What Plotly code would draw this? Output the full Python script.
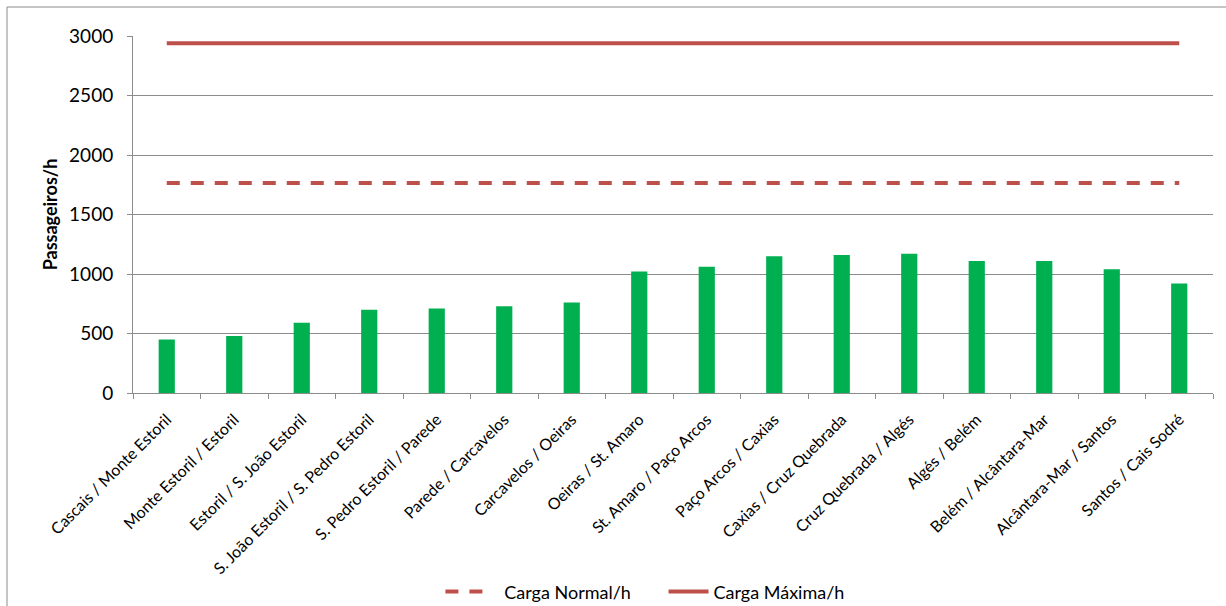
import plotly.graph_objects as go

categories = [
    "Cascais / Monte Estoril",
    "Monte Estoril / Estoril",
    "Estoril / S. João Estoril",
    "S. João Estoril / S. Pedro Estoril",
    "S. Pedro Estoril / Parede",
    "Parede / Carcavelos",
    "Carcavelos / Oeiras",
    "Oeiras / St. Amaro",
    "St. Amaro / Paço Arcos",
    "Paço Arcos / Caxias",
    "Caxias / Cruz Quebrada",
    "Cruz Quebrada / Algés",
    "Algés / Belém",
    "Belém / Alcântara-Mar",
    "Alcântara-Mar / Santos",
    "Santos / Cais Sodré",
]
passageiros = [450, 480, 590, 700, 710, 730, 760, 1020, 1060, 1150, 1160, 1170, 1110, 1110, 1040, 920]
carga_normal = [1765] * len(categories)
carga_maxima = [2940] * len(categories)
y_ticks = [0, 500, 1000, 1500, 2000, 2500, 3000]

FONT = "Lato"
RED = "#BE504B"
GREEN = "#00B050"
GRID = "#8C8C8C"

fig = go.Figure()
fig.add_trace(go.Bar(x=categories, y=passageiros, marker=dict(color=GREEN, line=dict(width=0)),
                     width=0.24, showlegend=False, name="Passageiros/h"))
fig.add_trace(go.Scatter(x=categories, y=carga_normal, mode="lines", name="   Carga Normal/h      ",
                         line=dict(color=RED, width=4, dash="13px,11px")))
fig.add_trace(go.Scatter(x=categories, y=carga_maxima, mode="lines", name="Carga Máxima/h",
                         line=dict(color=RED, width=4)))

fig.update_layout(
    width=1226, height=606,
    margin=dict(l=133, r=13, t=36, b=213, autoexpand=False),
    paper_bgcolor="white", plot_bgcolor="white",
    font=dict(family=FONT, color="#000000"),
    legend=dict(orientation="h", x=0.474, xanchor="center", y=-0.557, yanchor="middle",
                font=dict(family=FONT, size=18), itemwidth=40, traceorder="normal"),
    xaxis=dict(
        type="category", tickangle=-45, tickfont=dict(family=FONT, size=16),
        showline=True, linecolor=GRID, linewidth=1, automargin=False, ticklabelstandoff=10,
        ticks="outside", tickson="boundaries", ticklen=5, tickcolor=GRID,
        showgrid=False, range=[-0.5, len(categories) - 0.5],
    ),
    yaxis=dict(
        range=[0, 3000], tickvals=y_ticks, tickfont=dict(family=FONT, size=19),
        showgrid=True, gridcolor=GRID, gridwidth=1, automargin=False,
        showline=True, linecolor=GRID, linewidth=1, ticklabelstandoff=10,
        ticks="outside", ticklen=5, tickcolor=GRID, zeroline=False,
        title=dict(text="<b>Passageiros/h</b>", font=dict(family=FONT, size=18), standoff=6),
    ),
    shapes=[
        dict(type="line", xref="paper", yref="paper", x0=(7 - 133) / 1080, x1=(1226 - 133) / 1080,
             y0=(393 - 7) / 357, y1=(393 - 7) / 357, line=dict(color="#8C8C8C", width=1)),
        dict(type="line", xref="paper", yref="paper", x0=(7 - 133) / 1080, x1=(7 - 133) / 1080,
             y0=(393 - 7) / 357, y1=(393 - 606) / 357, line=dict(color="#8C8C8C", width=1)),
    ],
)

fig.write_html("out.html")
